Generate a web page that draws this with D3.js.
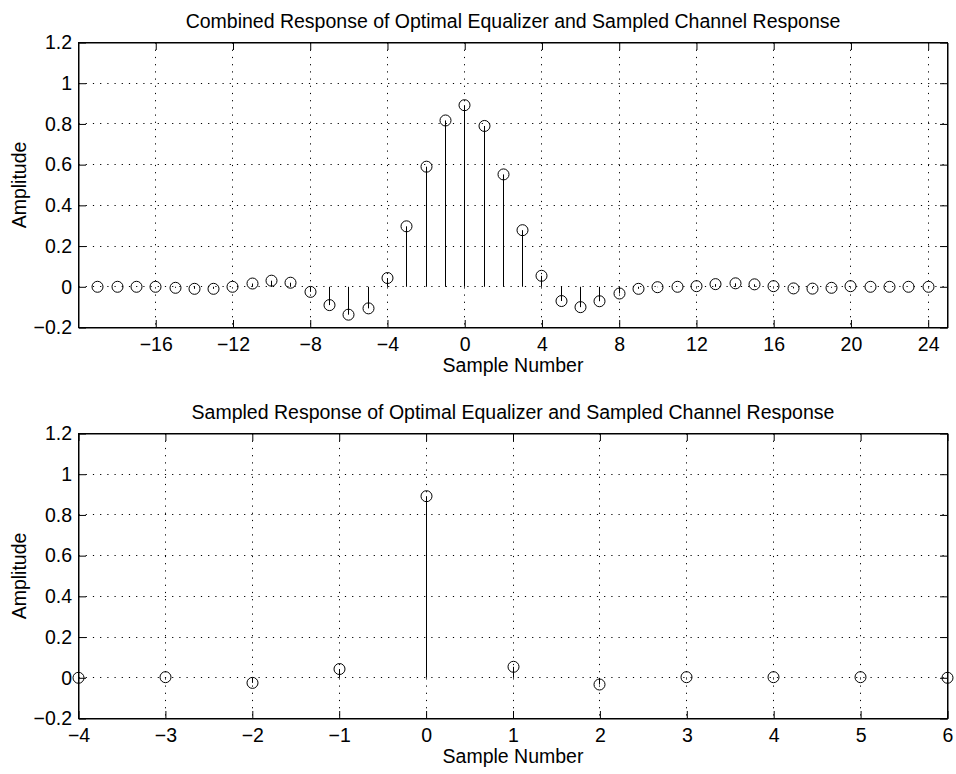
<!DOCTYPE html>
<html>
<head>
<meta charset="utf-8">
<script src="https://cdn.jsdelivr.net/npm/d3@7"></script>
<style>
  body { margin: 0; background: #fff; }
  svg { display: block; font-family: "Liberation Sans", Arial, Helvetica, sans-serif; }
  .grid line { stroke: #000; stroke-width: 1; stroke-dasharray: 1.2,6; }
  .axis path, .axis line { stroke: #000; }
  .axis text { fill: #000; font-size: 19.5px; }
</style>
</head>
<body>
<svg id="chart" width="956" height="774"></svg>
<script>
// combined response, samples -19..24
const fullSamples = d3.range(-19, 25);
const fullValues = [
    0, 0, 0, 0, -0.005, -0.01, -0.01, 0, 0.016, 0.03, 0.02, -0.025,
    -0.09, -0.137, -0.106, 0.043, 0.297, 0.59, 0.817, 0.892, 0.79, 0.552,
    0.278, 0.054, -0.07, -0.1, -0.071, -0.033, -0.01, -0.002, 0, 0.003,
    0.013, 0.017, 0.012, 0.003, -0.008, -0.009, -0.005, 0.003, 0, 0, 0, 0
];
const fullTicks = [-16, -12, -8, -4, 0, 4, 8, 12, 16, 20, 24];

// sampled response, symbol spaced
const sampSamples = [-4, -3, -2, -1, 0, 1, 2, 3, 4, 5, 6];
const sampValues = [0, 0.003, -0.025, 0.043, 0.892, 0.054, -0.033, 0.003, 0.003, 0.003, 0];
const sampTicks = [-4, -3, -2, -1, 0, 1, 2, 3, 4, 5, 6];

const yTicks = [-0.2, 0, 0.2, 0.4, 0.6, 0.8, 1, 1.2];

const svg = d3.select('#chart');
const fmt = d3.format('');
const yFmt = d => d === 0 ? '0' : d3.format('')(+d.toFixed(1));
const crisp = v => Math.round(v - 0.5) + 0.5;

function drawPanel(opts) {
    const { top, title, xDomain, xTicks, samples, values } = opts;
    const left = 78.5, right = 947.5, h = 285;
    const bottom = top + h;

    const x = d3.scaleLinear().domain(xDomain).range([left, right]);
    const y = d3.scaleLinear().domain([-0.2, 1.2]).range([bottom, top]);

    const g = svg.append('g');

    // grid
    const grid = g.append('g').attr('class', 'grid');
    grid.selectAll('.gx').data(xTicks.filter(t => t !== xDomain[0] && t !== xDomain[1])).enter()
        .append('line')
        .attr('x1', d => crisp(x(d))).attr('x2', d => crisp(x(d)))
        .attr('y1', top).attr('y2', bottom);
    grid.selectAll('.gy').data(yTicks.slice(1, -1)).enter()
        .append('line')
        .attr('x1', left).attr('x2', right)
        .attr('y1', d => crisp(y(d))).attr('y2', d => crisp(y(d)));

    // axes, ticks inward
    const tk = 7.5;
    g.append('g').attr('class', 'axis')
        .attr('transform', 'translate(0,' + bottom + ')')
        .call(d3.axisBottom(x).tickValues(xTicks).tickSizeInner(-tk).tickSizeOuter(0).tickPadding(10).tickFormat(d => fmt(d)));
    g.append('g').attr('class', 'axis')
        .attr('transform', 'translate(0,' + top + ')')
        .call(d3.axisTop(x).tickValues(xTicks).tickSizeInner(-tk).tickSizeOuter(0).tickFormat(''));
    g.append('g').attr('class', 'axis')
        .attr('transform', 'translate(' + left + ',0)')
        .call(d3.axisLeft(y).tickValues(yTicks).tickSizeInner(-tk).tickSizeOuter(0).tickPadding(6.5).tickFormat(yFmt));
    g.append('g').attr('class', 'axis')
        .attr('transform', 'translate(' + right + ',0)')
        .call(d3.axisRight(y).tickValues(yTicks).tickSizeInner(-tk).tickSizeOuter(0).tickFormat(''));
    g.selectAll('.axis text').attr('font-family', null).attr('font-size', null);

    g.append('rect')
        .attr('x', left).attr('y', top)
        .attr('width', right - left).attr('height', h)
        .attr('fill', 'none').attr('stroke', '#000');

    // stems
    const pts = samples.map((s, i) => ({ s, v: values[i] }));
    g.selectAll('.stem').data(pts).enter().append('line')
        .attr('x1', d => crisp(x(d.s))).attr('x2', d => crisp(x(d.s)))
        .attr('y1', y(0)).attr('y2', d => y(d.v))
        .attr('stroke', '#000').attr('stroke-width', 1);
    g.selectAll('.mark').data(pts).enter().append('circle')
        .attr('cx', d => crisp(x(d.s))).attr('cy', d => y(d.v))
        .attr('r', 5.5)
        .attr('fill', 'none').attr('stroke', '#000').attr('stroke-width', 1);

    // labels
    const cx = (left + right) / 2;
    g.append('text')
        .attr('x', cx).attr('y', top - 14.5)
        .attr('text-anchor', 'middle').attr('font-size', 19.5)
        .text(title);
    g.append('text')
        .attr('x', cx).attr('y', bottom + 44.5)
        .attr('text-anchor', 'middle').attr('font-size', 19.5)
        .text('Sample Number');
    g.append('text')
        .attr('transform', 'translate(19,' + (top + h / 2) + ') rotate(-90)')
        .attr('dy', '0.35em')
        .attr('text-anchor', 'middle').attr('font-size', 19.5)
        .text('Amplitude');
}

drawPanel({
    top: 42.5,
    title: 'Combined Response of Optimal Equalizer and Sampled Channel Response',
    xDomain: [-20, 25], xTicks: fullTicks,
    samples: fullSamples, values: fullValues
});

drawPanel({
    top: 433.5,
    title: 'Sampled Response of Optimal Equalizer and Sampled Channel Response',
    xDomain: [-4, 6], xTicks: sampTicks,
    samples: sampSamples, values: sampValues
});
</script>
</body>
</html>
